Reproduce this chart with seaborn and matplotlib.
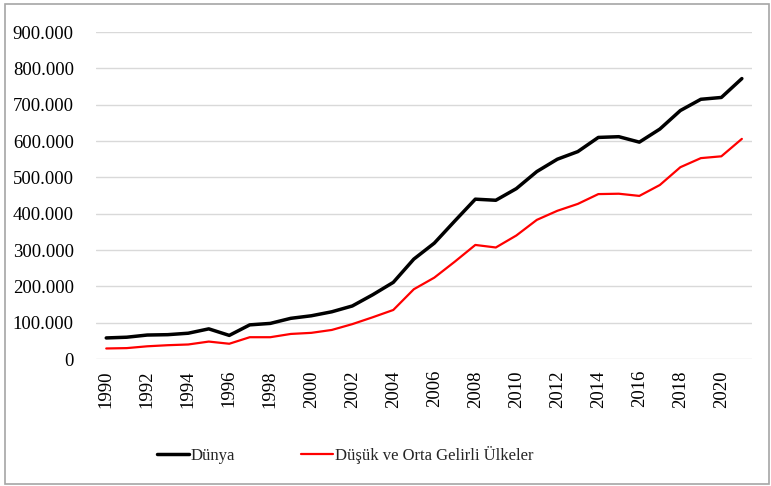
import numpy as np
import pandas as pd
import matplotlib as mpl
import matplotlib.pyplot as plt
import matplotlib.ticker as mticker
import seaborn as sns

# yıllar ve seriler
years = list(range(1990, 2022))
dunya = [58000, 60000, 66000, 67000, 71000, 83000, 65000, 94000, 98000, 112000,
         119000, 130000, 146000, 177000, 211000, 275000, 319000, 380000, 440000, 437000,
         469000, 516000, 550000, 571000, 610000, 612000, 597000, 633000, 684000, 715000,
         720000, 772000]
dusuk_orta = [29000, 30000, 35000, 38000, 40000, 48000, 42000, 60000, 60000, 69000,
              72000, 80000, 96000, 115000, 135000, 192000, 224000, 268000, 314000, 307000,
              340000, 383000, 408000, 427000, 454000, 455000, 449000, 479000, 528000, 553000,
              558000, 606000]
series_names = ["Dünya", "Düşük ve Orta Gelirli Ülkeler"]
yticks = list(range(0, 900001, 100000))

df = pd.DataFrame({"yil": years, series_names[0]: dunya, series_names[1]: dusuk_orta})

sns.set_theme(style="white")
plt.rcParams['font.family'] = ['Liberation Serif', 'DejaVu Serif']
mpl.rc('font', size=13.5)

fig = plt.figure(figsize=(7.71, 4.86), dpi=100)
ax = fig.add_axes([0.1245, 0.2613, 0.851, 0.6727])

sns.lineplot(data=df, x="yil", y=series_names[0], color="black", linewidth=2.5,
             label=series_names[0], ax=ax)
sns.lineplot(data=df, x="yil", y=series_names[1], color="#FF0000", linewidth=1.6,
             label=series_names[1], ax=ax)

ax.set_xlim(years[0] - 0.5, years[-1] + 0.5)
ax.set_ylim(0, 900000)
ax.set_yticks(yticks)
ax.yaxis.set_major_formatter(mticker.FuncFormatter(lambda v, p: f"{int(v):,}".replace(",", ".")))
ax.set_xticks(years[::2])
ax.set_xticklabels([str(y) for y in years[::2]], rotation=90)
ax.tick_params(axis="both", length=0, labelsize=13.5, colors="black")
ax.tick_params(axis="y", pad=16)
ax.tick_params(axis="x", pad=8)
ax.set_xlabel("")
ax.set_ylabel("")
ax.grid(axis="y", color="#D9D9D9", linewidth=1)
for s in ax.spines.values():
    s.set_visible(False)

ax.legend(loc="center", bbox_to_anchor=(0.3795, -0.293), ncol=2, frameon=False,
          handlelength=1.9, handletextpad=0.1, columnspacing=4.0, fontsize=12)

# grafik alanı çerçevesi
fig.add_artist(plt.Rectangle((5 / 771, 2 / 486), 764 / 771, 480 / 486, transform=fig.transFigure,
                             fill=False, edgecolor="#A6A6A6", linewidth=1.2))

fig.savefig("out.png", dpi=100)
